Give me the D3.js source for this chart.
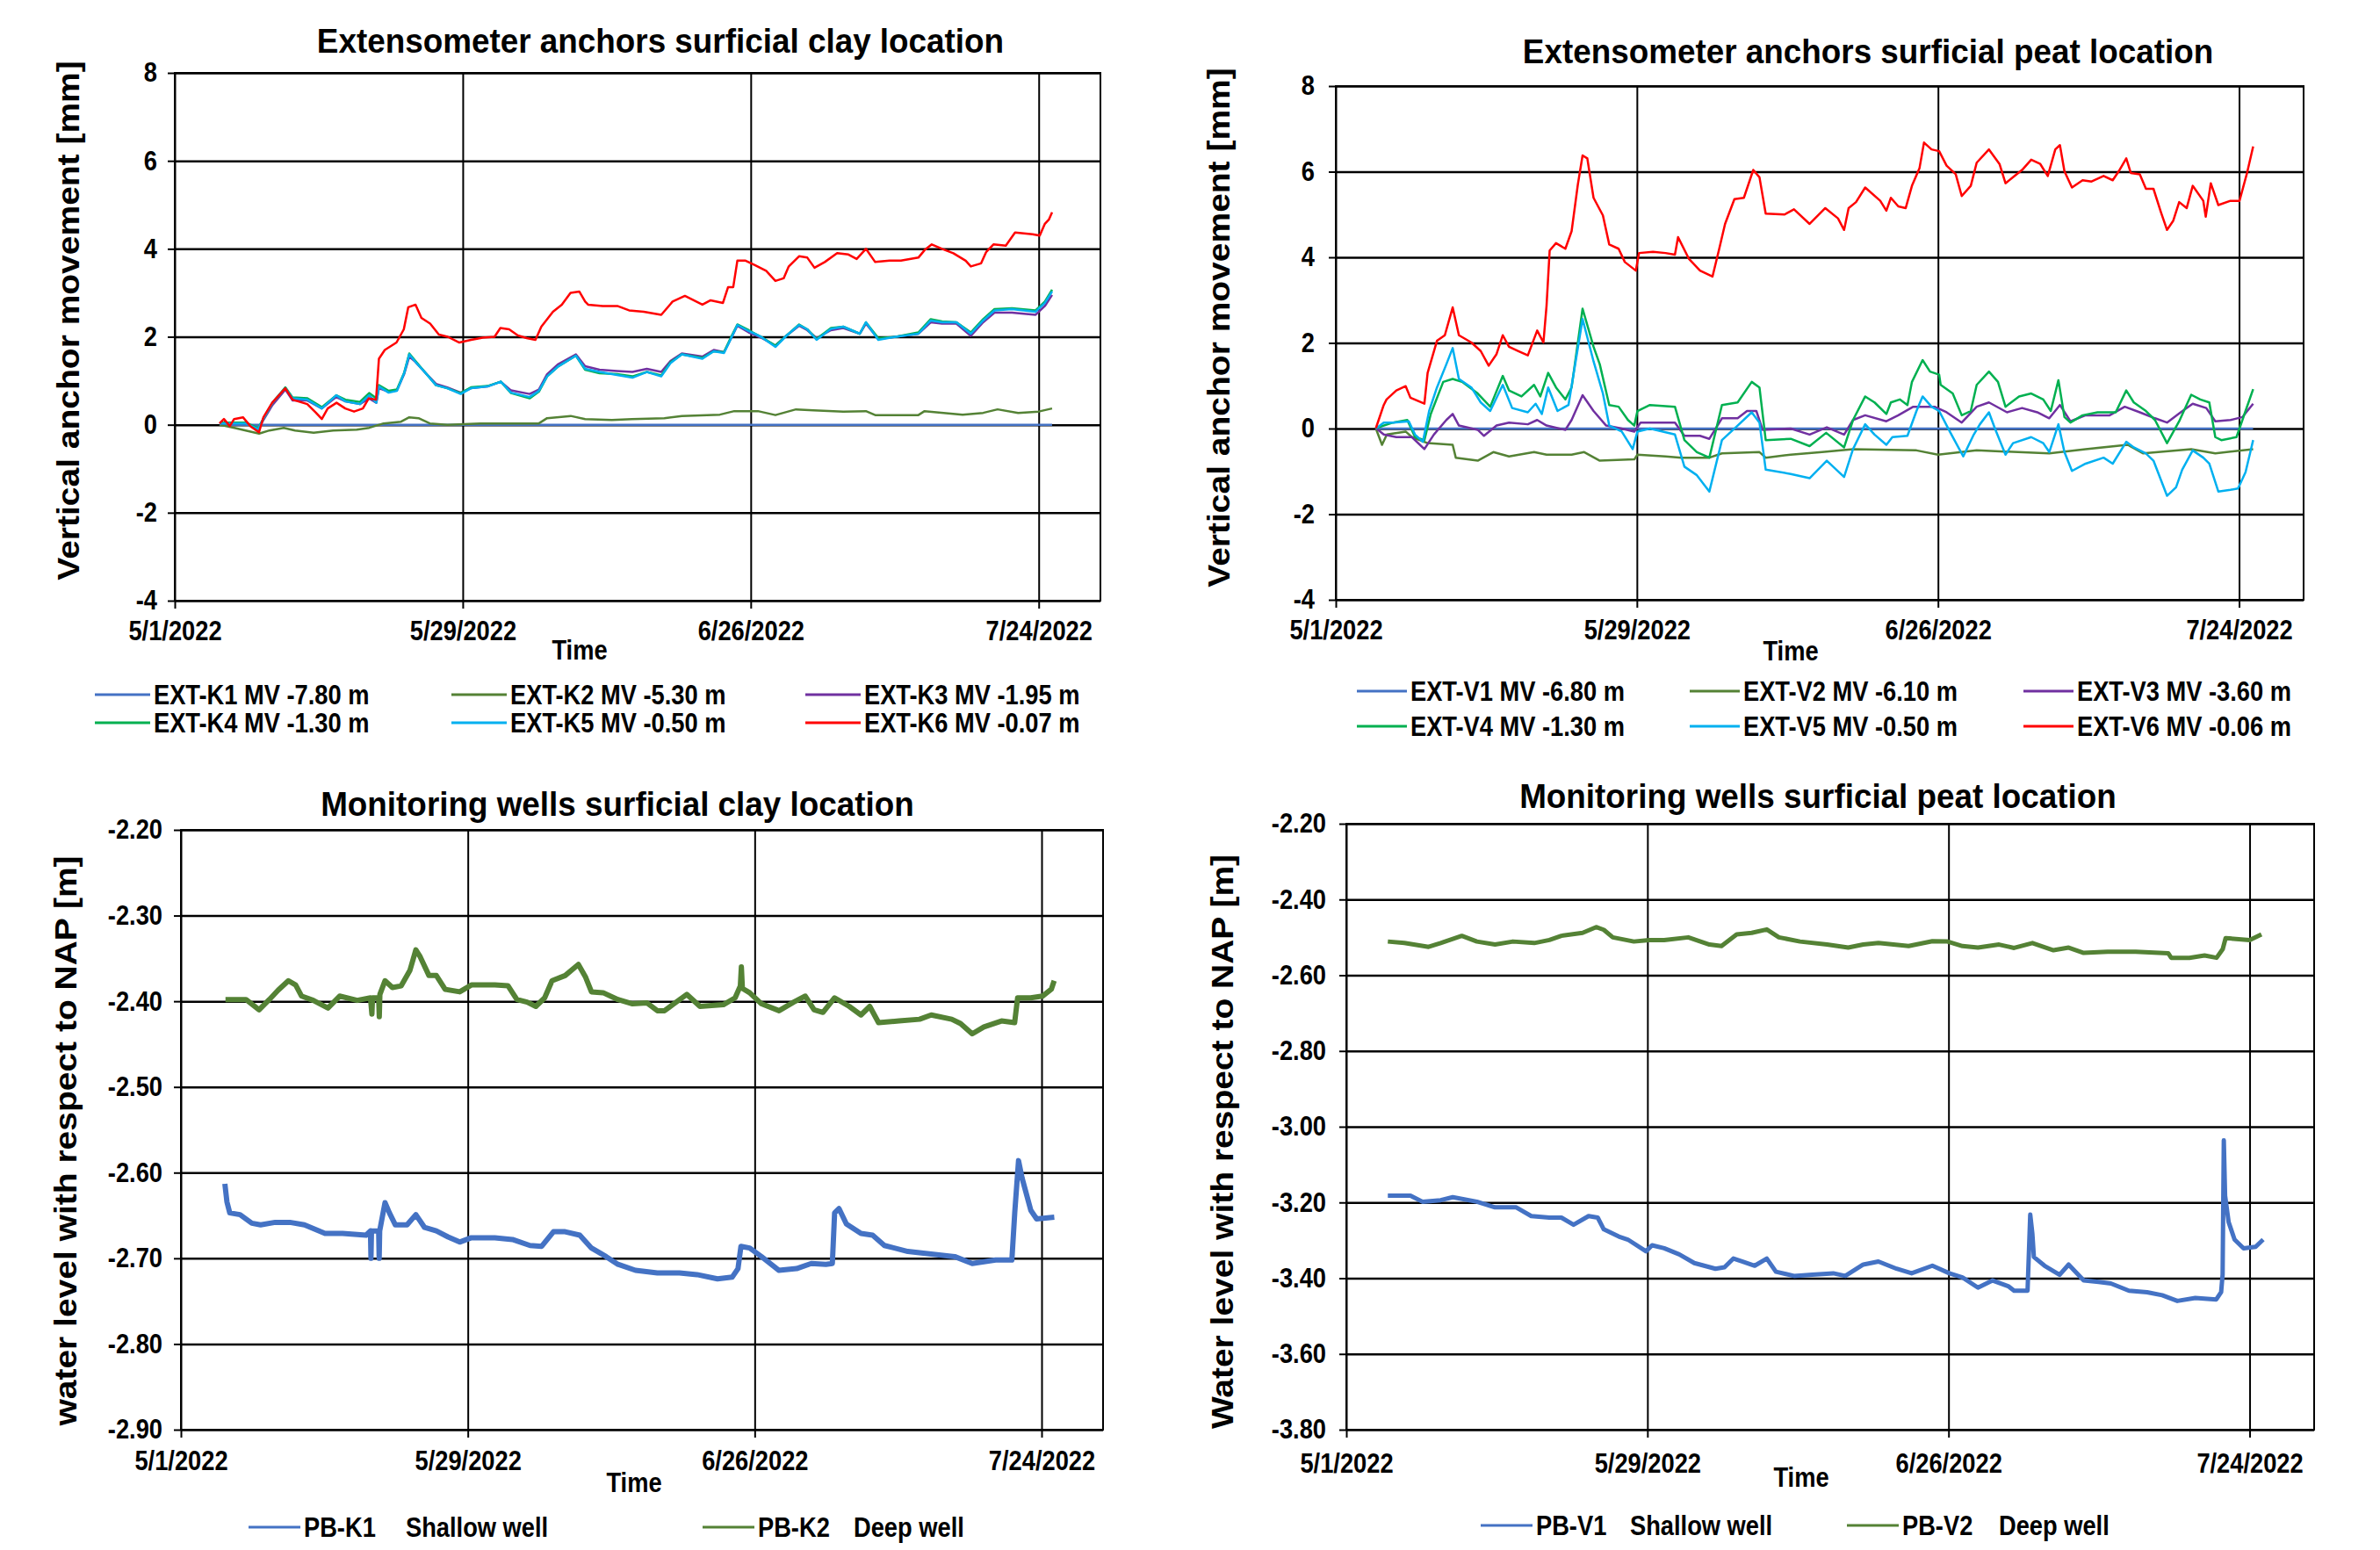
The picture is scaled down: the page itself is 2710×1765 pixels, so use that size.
<!DOCTYPE html>
<html>
<head>
<meta charset="utf-8">
<script src="https://cdn.jsdelivr.net/npm/d3@7"></script>
<style>
  body { margin: 0; background: #fff; }
  svg text { font-family: "Liberation Sans", Arial, Helvetica, sans-serif; font-weight: bold; fill: #000; }
</style>
</head>
<body>
<svg id="chart" width="2710" height="1765"></svg>
<script>
// ---- data: [days since 5/1/2022, value] ----
const xTickLabels = ["5/1/2022", "5/29/2022", "6/26/2022", "7/24/2022"];
const yTicksExt = [-4, -2, 0, 2, 4, 6, 8];
const yTicksWellK = [-2.9, -2.8, -2.7, -2.6, -2.5, -2.4, -2.3, -2.2];
const yTicksWellV = [-3.8, -3.6, -3.4, -3.2, -3.0, -2.8, -2.6, -2.4, -2.2];

const labelsK = ["EXT-K1 MV -7.80 m", "EXT-K2 MV -5.30 m", "EXT-K3 MV -1.95 m",
                 "EXT-K4 MV -1.30 m", "EXT-K5 MV -0.50 m", "EXT-K6 MV -0.07 m"];
const labelsV = ["EXT-V1 MV -6.80 m", "EXT-V2 MV -6.10 m", "EXT-V3 MV -3.60 m",
                 "EXT-V4 MV -1.30 m", "EXT-V5 MV -0.50 m", "EXT-V6 MV -0.06 m"];
const labelsWellK = [["PB-K1", "Shallow well"], ["PB-K2", "Deep well"]];
const labelsWellV = [["PB-V1", "Shallow well"], ["PB-V2", "Deep well"]];

const extK1 = [[4.35,0],[85.3,0]];
const extK2 = [[4.35,0],[5.8,-0.07],[6.9,-0.13],[8.2,-0.2],[9.2,-0.13],[10.6,-0.07],[11.7,-0.13],[13.5,-0.18],[15.4,-0.13],[17.7,-0.11],[18.9,-0.07],[20.3,0.03],[22.0,0.07],[22.8,0.17],[23.7,0.15],[24.8,0.03],[26.5,0],[29.7,0.03],[32.8,0.03],[35.4,0.03],[36.2,0.15],[38.5,0.2],[39.9,0.13],[42.5,0.11],[44.45,0.13],[47.6,0.15],[49.3,0.2],[53.0,0.23],[54.4,0.31],[56.7,0.31],[58.4,0.22],[60.4,0.35],[62.1,0.33],[65.0,0.3],[67.2,0.31],[68.1,0.22],[72.3,0.22],[72.9,0.31],[76.6,0.23],[78.6,0.27],[80.0,0.35],[82.0,0.27],[84.0,0.3],[85.3,0.37]];
const extK3 = [[4.35,0.03],[6.9,0.03],[8.1,-0.1],[8.6,0.1],[9.5,0.45],[10.75,0.8],[11.46,0.55],[12.9,0.55],[14.3,0.37],[15.7,0.63],[16.6,0.53],[18.0,0.47],[18.9,0.6],[19.6,0.5],[19.85,0.83],[20.8,0.75],[21.6,0.78],[22.3,1.15],[22.8,1.55],[23.4,1.43],[24.3,1.2],[25.4,0.93],[26.5,0.85],[27.8,0.73],[28.8,0.83],[30.4,0.87],[31.7,0.98],[32.7,0.78],[34.5,0.7],[35.4,0.8],[36.2,1.15],[37.3,1.38],[39.0,1.6],[39.9,1.33],[41.3,1.25],[43.0,1.22],[44.5,1.2],[45.9,1.27],[47.3,1.2],[48.2,1.45],[49.3,1.62],[51.3,1.55],[52.4,1.7],[53.4,1.65],[54.1,1.97],[54.7,2.25],[55.8,2.1],[57.0,1.98],[58.4,1.8],[59.5,2.03],[60.7,2.25],[61.5,2.15],[62.4,1.97],[63.8,2.15],[65.0,2.2],[66.6,2.07],[67.2,2.3],[68.4,1.95],[70.1,2.0],[72.3,2.07],[73.5,2.33],[74.6,2.3],[76.0,2.3],[77.4,2.02],[78.6,2.33],[79.7,2.55],[81.4,2.55],[83.7,2.5],[84.6,2.7],[85.3,2.95]];
const extK4 = [[4.35,0.05],[6.9,0.05],[8.1,-0.08],[8.6,0.13],[9.5,0.5],[10.75,0.85],[11.46,0.62],[12.9,0.6],[14.3,0.4],[15.7,0.67],[16.6,0.57],[18.0,0.52],[18.9,0.72],[19.6,0.6],[19.85,0.9],[20.8,0.77],[21.6,0.8],[22.3,1.18],[22.8,1.62],[23.4,1.45],[24.3,1.2],[25.4,0.9],[26.5,0.83],[27.8,0.72],[28.8,0.85],[30.4,0.88],[31.7,0.98],[32.7,0.72],[34.5,0.6],[35.4,0.75],[36.2,1.1],[37.3,1.33],[39.0,1.57],[39.9,1.25],[41.3,1.17],[43.0,1.15],[44.5,1.1],[45.9,1.2],[47.3,1.12],[48.2,1.42],[49.3,1.6],[51.3,1.52],[52.4,1.67],[53.4,1.65],[54.1,2.0],[54.7,2.28],[55.8,2.15],[57.0,2.0],[58.4,1.8],[59.5,2.03],[60.7,2.28],[61.5,2.17],[62.4,1.95],[63.8,2.2],[65.0,2.23],[66.6,2.07],[67.2,2.33],[68.4,1.97],[70.1,2.0],[72.3,2.1],[73.5,2.4],[74.6,2.35],[76.0,2.33],[77.4,2.1],[78.6,2.4],[79.7,2.63],[81.4,2.65],[83.7,2.6],[84.6,2.8],[85.3,3.07]];
const extK5 = [[4.35,0.03],[5.5,0.03],[6.9,0.03],[8.1,-0.1],[8.6,0.13],[9.5,0.5],[10.75,0.83],[11.46,0.6],[12.9,0.57],[14.3,0.37],[15.7,0.67],[16.6,0.53],[18.0,0.47],[18.9,0.67],[19.6,0.5],[19.85,0.87],[20.8,0.73],[21.6,0.77],[22.3,1.17],[22.8,1.6],[23.4,1.43],[24.3,1.2],[25.4,0.9],[26.5,0.83],[27.8,0.7],[28.8,0.83],[30.4,0.87],[31.7,0.98],[32.7,0.73],[34.5,0.63],[35.4,0.77],[36.2,1.1],[37.3,1.33],[39.0,1.57],[39.9,1.27],[41.3,1.2],[43.0,1.13],[44.5,1.07],[45.9,1.2],[47.3,1.1],[48.2,1.4],[49.3,1.6],[51.3,1.5],[52.4,1.67],[53.4,1.63],[54.1,1.97],[54.7,2.27],[55.8,2.13],[57.0,2.0],[58.4,1.77],[59.5,2.03],[60.7,2.27],[61.5,2.17],[62.4,1.93],[63.8,2.18],[65.0,2.23],[66.6,2.07],[67.2,2.33],[68.4,1.93],[70.1,2.0],[72.3,2.07],[73.5,2.37],[74.6,2.33],[76.0,2.33],[77.4,2.07],[78.6,2.37],[79.7,2.6],[81.4,2.63],[83.7,2.57],[84.6,2.77],[85.3,3.03]];
const extK6 = [[4.35,0.03],[4.78,0.13],[5.35,-0.03],[5.77,0.13],[6.63,0.17],[7.34,-0.03],[8.19,-0.17],[8.62,0.17],[9.47,0.5],[10.75,0.83],[11.46,0.57],[12.88,0.47],[13.74,0.27],[14.3,0.13],[14.87,0.37],[15.73,0.5],[16.58,0.37],[17.43,0.3],[18.29,0.37],[18.86,0.6],[19.57,0.57],[19.85,1.5],[20.42,1.7],[21.56,1.87],[22.27,2.17],[22.7,2.67],[23.41,2.73],[23.98,2.43],[24.83,2.3],[25.68,2.05],[26.54,2.0],[27.67,1.87],[28.81,1.93],[29.95,1.98],[31.09,2.0],[31.66,2.2],[32.51,2.17],[33.36,2.03],[34.22,1.97],[35.07,1.93],[35.64,2.23],[36.77,2.57],[37.63,2.73],[38.48,3.0],[39.33,3.03],[39.9,2.8],[40.19,2.73],[41.61,2.7],[43.03,2.7],[44.17,2.6],[45.6,2.57],[47.3,2.5],[48.4,2.8],[49.6,2.93],[51.3,2.73],[52.1,2.83],[53.3,2.77],[53.8,3.13],[54.3,3.13],[54.7,3.73],[55.5,3.73],[56.4,3.63],[57.5,3.5],[58.4,3.27],[59.2,3.33],[59.7,3.6],[60.7,3.83],[61.5,3.8],[62.2,3.57],[63.2,3.7],[64.4,3.9],[65.5,3.87],[66.3,3.77],[67.2,4.0],[68.1,3.7],[69.5,3.73],[70.6,3.73],[72.3,3.8],[72.9,3.97],[73.6,4.1],[74.6,4.0],[75.7,3.9],[76.9,3.73],[77.4,3.6],[78.4,3.67],[78.9,3.93],[79.6,4.1],[80.8,4.07],[81.7,4.37],[83.4,4.33],[84.1,4.3],[84.6,4.57],[85.0,4.67],[85.3,4.83]];

const extV1 = [[3.73,0],[85.3,0]];
const extV2 = [[3.73,0],[4.3,-0.38],[4.75,-0.14],[6.5,-0.07],[7.08,-0.2],[8.54,-0.34],[10.87,-0.38],[11.16,-0.68],[13.2,-0.75],[14.65,-0.55],[16.11,-0.65],[18.44,-0.55],[19.6,-0.61],[21.93,-0.61],[23.1,-0.55],[24.55,-0.75],[27.76,-0.72],[28.05,-0.61],[30.67,-0.65],[32.13,-0.68],[34.74,-0.68],[35.91,-0.58],[39.4,-0.55],[39.98,-0.68],[42.31,-0.61],[45.22,-0.55],[48.1,-0.48],[54.0,-0.51],[56.0,-0.61],[59.6,-0.51],[66.35,-0.58],[69.73,-0.48],[73.65,-0.38],[75.06,-0.58],[79.55,-0.48],[81.79,-0.58],[85.31,-0.48]];
const extV3 = [[3.73,0.01],[4.46,-0.14],[5.63,-0.2],[7.08,-0.2],[8.24,-0.48],[9.12,-0.14],[10.28,0.2],[10.87,0.34],[11.45,0.07],[13.2,-0.03],[13.78,-0.17],[14.95,0.07],[16.11,0.14],[17.86,0.1],[18.73,0.2],[19.6,0.07],[21.35,-0.03],[21.93,0.2],[22.95,0.78],[23.97,0.41],[25.14,0.07],[26.59,0],[27.76,-0.07],[28.34,0.14],[29.8,0.14],[31.54,0.14],[32.42,-0.17],[33.87,-0.17],[34.74,-0.24],[35.91,0.24],[37.37,0.24],[38.24,0.41],[39.11,0.41],[39.69,-0.03],[42.31,0],[44.06,-0.14],[45.66,0.03],[47.27,-0.14],[48.1,0.2],[49.23,0.31],[51.2,0.17],[52.31,0.31],[53.7,0.51],[55.68,0.51],[56.8,0.38],[58.21,0.14],[59.6,0.51],[60.74,0.61],[62.42,0.38],[63.82,0.48],[65.23,0.38],[66.35,0.24],[67.34,0.55],[68.32,0.17],[69.73,0.31],[71.97,0.31],[73.37,0.51],[74.77,0.38],[76.18,0.24],[77.3,0.14],[78.57,0.38],[79.69,0.58],[80.95,0.48],[81.79,0.17],[83.2,0.2],[84.32,0.27],[85.31,0.58]];
const extV4 = [[3.73,0.01],[5.33,0.14],[6.65,0.2],[7.37,-0.2],[8.24,-0.27],[8.83,0.34],[9.99,1.09],[10.87,1.16],[11.74,1.09],[13.2,0.82],[14.36,0.51],[15.53,1.23],[16.11,0.89],[17.27,0.75],[18.44,1.02],[19.02,0.75],[19.75,1.3],[20.48,0.96],[21.35,0.68],[21.93,0.96],[22.95,2.8],[23.97,1.91],[24.55,1.5],[25.43,0.55],[26.3,0.51],[27.17,0.2],[27.76,0.07],[28.05,0.41],[29.21,0.55],[31.54,0.51],[32.42,-0.27],[33.58,-0.55],[34.74,-0.68],[35.91,0.55],[37.37,0.61],[38.68,1.09],[39.4,0.96],[39.98,-0.27],[42.31,-0.24],[44.06,-0.41],[45.6,-0.1],[47.27,-0.44],[48.1,0.2],[49.23,0.75],[50.1,0.61],[51.2,0.34],[51.62,0.61],[52.45,0.68],[53.16,0.55],[53.58,1.09],[54.57,1.6],[55.26,1.33],[56.11,1.26],[56.25,1.02],[57.37,0.82],[58.21,0.31],[59.05,0.41],[59.6,1.02],[60.74,1.33],[61.58,1.09],[62.28,0.51],[63.54,0.75],[64.67,0.82],[65.79,0.68],[66.49,0.41],[67.2,1.13],[67.76,0.27],[68.32,0.14],[69.45,0.31],[70.84,0.38],[72.53,0.38],[73.51,0.89],[74.21,0.61],[75.34,0.41],[76.18,0.2],[77.3,-0.34],[78.43,0.17],[79.55,0.79],[80.39,0.68],[81.23,0.61],[81.79,-0.2],[82.35,-0.27],[83.76,-0.2],[84.6,0.41],[85.31,0.92]];
const extV5 = [[3.73,0],[4.46,0.14],[5.33,0.14],[6.79,0.17],[7.37,-0.14],[8.1,-0.31],[8.68,0.41],[9.41,0.96],[10.28,1.5],[10.87,1.88],[11.45,1.16],[12.61,0.96],[13.48,0.61],[14.36,0.41],[15.53,1.02],[16.4,0.48],[17.86,0.38],[18.58,0.58],[19.16,0.34],[19.75,0.96],[20.62,0.41],[21.64,0.55],[22.95,2.56],[23.97,1.57],[24.84,0.82],[25.43,0.07],[26.59,-0.07],[27.61,-0.48],[28.05,-0.07],[29.21,0],[31.54,-0.14],[32.42,-0.89],[33.58,-1.09],[34.74,-1.47],[35.91,-0.27],[37.37,0.07],[38.68,0.38],[39.4,0.14],[39.98,-0.96],[42.31,-1.06],[44.06,-1.16],[45.66,-0.75],[47.27,-1.13],[48.1,-0.48],[49.23,0.1],[50.1,-0.14],[51.2,-0.38],[51.76,-0.2],[53.16,-0.17],[54.0,0.41],[54.57,0.75],[55.4,0.51],[56.11,0.41],[57.1,-0.07],[58.35,-0.65],[59.33,-0.14],[59.9,0.1],[60.74,0.38],[61.3,0],[62.28,-0.61],[62.98,-0.34],[64.67,-0.2],[65.79,-0.34],[66.35,-0.55],[67.2,0.1],[67.76,-0.55],[68.46,-0.99],[69.73,-0.82],[71.4,-0.68],[72.25,-0.82],[73.51,-0.31],[74.21,-0.44],[75.34,-0.58],[76.04,-0.75],[77.3,-1.57],[78.14,-1.37],[78.71,-0.96],[79.69,-0.51],[80.67,-0.68],[81.23,-0.82],[82.07,-1.47],[83.2,-1.43],[83.9,-1.4],[84.6,-1.02],[85.31,-0.27]];
const extV6 = [[3.73,0.01],[4.46,0.55],[4.72,0.68],[5.63,0.89],[6.5,0.99],[6.94,0.72],[8.24,0.58],[8.54,1.3],[9.41,2.05],[10.14,2.18],[10.87,2.83],[11.45,2.18],[12.61,2.01],[13.48,1.81],[14.22,1.47],[14.95,1.74],[15.53,2.18],[16.11,1.91],[16.98,1.81],[17.86,1.71],[18.73,2.29],[19.31,2.01],[19.6,2.87],[19.89,4.16],[20.48,4.33],[21.35,4.2],[21.93,4.61],[22.51,5.7],[22.95,6.38],[23.39,6.31],[23.97,5.39],[24.84,4.98],[25.43,4.3],[26.3,4.2],[26.88,3.89],[27.9,3.69],[28.2,4.1],[29.5,4.13],[30.66,4.1],[31.54,4.06],[31.83,4.47],[32.85,3.96],[33.87,3.69],[35.03,3.55],[35.62,4.16],[36.2,4.78],[37.07,5.36],[37.95,5.39],[38.82,6.04],[39.4,5.87],[39.98,5.02],[41.74,5.0],[42.61,5.12],[44.06,4.78],[45.52,5.15],[46.7,4.91],[47.27,4.64],[47.69,5.15],[48.38,5.29],[49.23,5.63],[50.63,5.32],[51.2,5.09],[51.62,5.39],[52.31,5.19],[53.0,5.15],[53.58,5.67],[54.28,6.08],[54.7,6.68],[55.4,6.52],[56.11,6.48],[56.8,6.14],[57.65,5.94],[58.21,5.43],[59.05,5.67],[59.6,6.21],[60.74,6.52],[61.72,6.18],[62.28,5.73],[62.98,5.87],[63.82,6.04],[64.67,6.28],[65.51,6.18],[66.21,5.9],[66.91,6.52],[67.34,6.62],[67.76,6.01],[68.46,5.63],[69.45,5.8],[70.28,5.77],[71.4,5.9],[72.25,5.8],[72.81,6.01],[73.51,6.31],[73.93,5.97],[74.77,5.94],[75.34,5.6],[76.04,5.6],[76.74,5.05],[77.3,4.64],[77.87,4.85],[78.43,5.29],[79.13,5.15],[79.69,5.67],[80.67,5.32],[80.9,4.95],[81.37,5.73],[82.07,5.22],[83.2,5.32],[84.04,5.32],[84.74,5.97],[85.31,6.59]];

const wellK1 = [[4.29,-2.613],[4.49,-2.634],[4.77,-2.647],[5.77,-2.649],[6.92,-2.659],[7.78,-2.661],[9.2,-2.658],[10.63,-2.658],[12.06,-2.661],[14.06,-2.671],[15.78,-2.671],[18.07,-2.673],[18.5,-2.668],[18.55,-2.70],[18.6,-2.668],[19.3,-2.668],[19.35,-2.70],[19.4,-2.668],[19.92,-2.635],[20.35,-2.647],[20.93,-2.661],[22.07,-2.661],[22.93,-2.649],[23.78,-2.664],[24.93,-2.668],[26.07,-2.675],[27.21,-2.681],[28.35,-2.676],[30.64,-2.676],[32.36,-2.678],[34.07,-2.685],[35.21,-2.686],[36.36,-2.669],[37.5,-2.669],[38.93,-2.673],[40.07,-2.688],[41.5,-2.698],[42.65,-2.707],[44.36,-2.714],[46.5,-2.717],[48.66,-2.717],[50.37,-2.719],[52.37,-2.724],[53.8,-2.722],[54.37,-2.712],[54.66,-2.686],[55.51,-2.688],[56.66,-2.698],[58.37,-2.714],[60.09,-2.712],[61.52,-2.706],[62.95,-2.707],[63.58,-2.706],[63.8,-2.647],[64.23,-2.642],[64.95,-2.66],[66.37,-2.671],[67.51,-2.673],[68.66,-2.685],[70.95,-2.692],[73.23,-2.695],[75.52,-2.698],[77.23,-2.706],[79.52,-2.702],[81.1,-2.702],[81.38,-2.647],[81.75,-2.586],[82.09,-2.606],[82.95,-2.644],[83.52,-2.654],[85.24,-2.652]];
const wellK2 = [[4.35,-2.398],[6.35,-2.398],[7.63,-2.41],[8.63,-2.398],[9.49,-2.387],[10.49,-2.376],[11.2,-2.381],[11.78,-2.394],[12.92,-2.399],[14.35,-2.408],[15.49,-2.394],[17.21,-2.399],[18.5,-2.396],[18.64,-2.415],[18.7,-2.396],[19.3,-2.396],[19.36,-2.418],[19.42,-2.392],[19.92,-2.376],[20.64,-2.384],[21.5,-2.382],[22.35,-2.364],[22.93,-2.34],[23.35,-2.348],[24.21,-2.37],[24.93,-2.37],[25.78,-2.386],[27.21,-2.389],[28.35,-2.381],[30.64,-2.381],[31.93,-2.382],[32.79,-2.398],[33.79,-2.401],[34.64,-2.406],[35.5,-2.396],[36.22,-2.376],[37.5,-2.37],[38.79,-2.357],[39.5,-2.372],[40.07,-2.389],[41.21,-2.39],[42.65,-2.398],[44.08,-2.403],[45.5,-2.402],[46.5,-2.411],[47.2,-2.411],[48.1,-2.403],[49.37,-2.392],[50.66,-2.406],[52.94,-2.404],[54.09,-2.396],[54.6,-2.382],[54.7,-2.36],[54.8,-2.385],[55.5,-2.39],[56.66,-2.403],[58.38,-2.411],[59.8,-2.401],[60.94,-2.394],[61.8,-2.41],[62.66,-2.413],[63.8,-2.396],[65.23,-2.406],[66.37,-2.416],[67.23,-2.406],[68.09,-2.425],[70.09,-2.423],[72.09,-2.421],[73.23,-2.416],[75.23,-2.421],[76.09,-2.426],[77.23,-2.438],[78.37,-2.43],[80.09,-2.423],[81.37,-2.425],[81.66,-2.396],[82.94,-2.396],[84.09,-2.394],[84.95,-2.386],[85.23,-2.376]];

const wellV1 = [[3.86,-3.182],[5.96,-3.182],[7.08,-3.198],[8.77,-3.194],[9.9,-3.186],[12.14,-3.198],[13.83,-3.213],[15.8,-3.213],[17.2,-3.236],[18.88,-3.24],[20.0,-3.24],[21.13,-3.259],[22.53,-3.236],[23.38,-3.24],[23.94,-3.271],[25.34,-3.29],[26.18,-3.298],[27.87,-3.329],[28.43,-3.313],[29.56,-3.321],[30.96,-3.337],[32.36,-3.36],[34.33,-3.375],[35.17,-3.371],[36.0,-3.348],[36.86,-3.356],[37.98,-3.367],[39.1,-3.348],[39.95,-3.383],[41.63,-3.394],[43.32,-3.391],[45.28,-3.387],[46.4,-3.394],[48.07,-3.364],[49.48,-3.356],[51.17,-3.375],[52.57,-3.387],[54.5,-3.367],[56.07,-3.387],[57.3,-3.398],[58.74,-3.425],[60.1,-3.406],[61.55,-3.421],[62.1,-3.433],[63.35,-3.433],[63.6,-3.232],[63.8,-3.283],[63.94,-3.344],[64.93,-3.367],[66.33,-3.391],[67.17,-3.364],[68.57,-3.406],[69.97,-3.41],[71.1,-3.414],[72.78,-3.433],[74.47,-3.437],[75.87,-3.445],[77.28,-3.46],[78.95,-3.452],[80.9,-3.456],[81.35,-3.437],[81.49,-3.39],[81.6,-3.036],[81.72,-3.182],[82.05,-3.252],[82.6,-3.298],[83.44,-3.321],[84.56,-3.317],[85.26,-3.298]];
const wellV2 = [[3.86,-2.511],[5.4,-2.515],[7.65,-2.525],[8.77,-2.515],[10.74,-2.496],[12.14,-2.511],[13.83,-2.519],[15.5,-2.511],[17.48,-2.515],[18.88,-2.507],[20.0,-2.496],[21.97,-2.488],[23.23,-2.473],[23.94,-2.48],[24.78,-2.5],[26.74,-2.511],[28.15,-2.507],[29.56,-2.507],[31.8,-2.5],[33.77,-2.519],[34.89,-2.523],[36.3,-2.492],[37.7,-2.488],[39.1,-2.479],[40.23,-2.5],[42.19,-2.511],[44.7,-2.519],[46.67,-2.527],[48.07,-2.519],[49.48,-2.515],[52.29,-2.523],[54.5,-2.51],[55.9,-2.511],[57.3,-2.523],[58.74,-2.527],[60.7,-2.519],[62.1,-2.528],[63.8,-2.515],[65.76,-2.534],[67.17,-2.527],[68.57,-2.541],[70.8,-2.538],[73.4,-2.538],[76.43,-2.542],[76.71,-2.554],[78.4,-2.554],[79.81,-2.548],[80.93,-2.554],[81.5,-2.531],[81.77,-2.502],[84.0,-2.507],[85.1,-2.492]];

const extColors = ["#4472C4", "#548235", "#7030A0", "#00B050", "#00B0F0", "#FF0000"];
const wellColors = ["#4472C4", "#548235"];

// ---- helpers ----
const day0 = new Date(2022, 4, 1);
const parseDate = d3.timeParse("%m/%d/%Y");
function toDate(d) { return new Date(day0.getTime() + d * 864e5); }
function fmtDate(d) { return (d.getMonth() + 1) + "/" + d.getDate() + "/" + d.getFullYear(); }

// the source picture is horizontally compressed, so text is too
const SQ = 0.88;
function squeeze(sel, f) {
    sel.each(function () {
        const t = d3.select(this);
        const x0 = +t.attr("x") || 0;
        t.attr("transform", "translate(" + (x0 * (1 - f)) + ",0) scale(" + f + ",1)");
    });
}

const svg = d3.select("#chart");

function drawPanel(p) {
    const g = svg.append("g");
    const w = p.right - p.left, h = p.bottom - p.top;
    const x = d3.scaleTime().domain([day0, toDate(90)]).range([p.left, p.right]);
    const y = d3.scaleLinear().domain(p.yDomain).range([p.bottom, p.top]);
    const xTicks = xTickLabels.map(parseDate);

    // gridlines
    const gx = g.append("g").attr("transform", "translate(0," + p.bottom + ")")
        .call(d3.axisBottom(x).tickValues(xTicks).tickSize(-h).tickFormat(""));
    gx.select(".domain").remove();
    gx.selectAll("line").attr("stroke", "#000").attr("stroke-width", 2);

    const gy = g.append("g").attr("transform", "translate(" + p.left + ",0)")
        .call(d3.axisLeft(y).tickValues(p.yTicks).tickSize(-w).tickFormat(""));
    gy.select(".domain").remove();
    gy.selectAll("line").attr("stroke", "#000").attr("stroke-width", 2.5);

    g.append("rect")
        .attr("x", p.left).attr("y", p.top).attr("width", w).attr("height", h)
        .attr("fill", "none").attr("stroke", "#000").attr("stroke-width", 2);

    // series
    const line = d3.line()
        .x(function (d) { return x(toDate(d[0])); })
        .y(function (d) { return y(d[1]); });
    p.series.forEach(function (s, i) {
        g.append("path")
            .datum(s)
            .attr("d", line)
            .attr("fill", "none")
            .attr("stroke", p.colors[i])
            .attr("stroke-width", p.lineWidth)
            .attr("stroke-linejoin", "round");
    });

    // axes with labels
    const ax = g.append("g").attr("transform", "translate(0," + p.bottom + ")")
        .call(d3.axisBottom(x).tickValues(xTicks).tickSize(9).tickPadding(p.xPad).tickFormat(fmtDate));
    ax.select(".domain").remove();
    ax.selectAll("line").attr("stroke", "#000").attr("stroke-width", 2);
    ax.selectAll("text").style("font-size", "31px");
    squeeze(ax.selectAll("text"), SQ);

    const ay = g.append("g").attr("transform", "translate(" + p.left + ",0)")
        .call(d3.axisLeft(y).tickValues(p.yTicks).tickSize(8).tickPadding(p.yPad).tickFormat(p.yFormat));
    ay.select(".domain").remove();
    ay.selectAll("line").attr("stroke", "#000").attr("stroke-width", 2);
    ay.selectAll("text").style("font-size", "31px");
    squeeze(ay.selectAll("text"), SQ);

    // title
    const tt = g.append("text")
        .attr("x", p.titleX).attr("y", p.titleY).attr("dy", "0.35em")
        .attr("text-anchor", "middle").style("font-size", "38px")
        .text(p.title);
    squeeze(tt, 0.97);

    // "Time"
    const tm = g.append("text")
        .attr("x", p.timeX).attr("y", p.timeY).attr("dy", "0.35em")
        .attr("text-anchor", "middle").style("font-size", "31px")
        .text("Time");
    squeeze(tm, SQ);

    // y label
    g.append("g")
        .attr("transform", "translate(" + p.ylabX + "," + p.ylabY + ") scale(" + SQ + ",1) rotate(-90)")
        .append("text")
        .attr("text-anchor", "middle").attr("dy", "0.35em")
        .style("font-size", "39px")
        .text(p.ylabel);

    // legend
    p.legend.forEach(function (item, i) {
        const lx = item.x, ly = item.y;
        g.append("line")
            .attr("x1", lx).attr("x2", lx + p.legLine)
            .attr("y1", ly).attr("y2", ly)
            .attr("stroke", p.colors[i]).attr("stroke-width", 3);
        const t1 = g.append("text")
            .attr("x", lx + p.legLine + 4).attr("y", ly).attr("dy", "0.35em")
            .style("font-size", "31px")
            .text(item.label[0]);
        squeeze(t1, SQ);
        if (item.label[1]) {
            const t2 = g.append("text")
                .attr("x", item.x2).attr("y", ly).attr("dy", "0.35em")
                .style("font-size", "31px")
                .text(item.label[1]);
            squeeze(t2, SQ);
        }
    });
}

// plain hyphen minus, as in the source
const fmtInt = function (d) { return String(d); };
const fmt2 = function (d) { return d.toFixed(2); };

function extLegend(labels, cols, rows) {
    return labels.map(function (l, i) {
        return { label: [l], x: cols[i % 3], y: rows[Math.floor(i / 3)] };
    });
}
function wellLegend(labels, cols, cols2, row) {
    return labels.map(function (l, i) {
        return { label: l, x: cols[i], x2: cols2[i], y: row };
    });
}

drawPanel({
    left: 199, right: 1253, top: 83, bottom: 684,
    yDomain: [-4, 8], yTicks: yTicksExt, yFormat: fmtInt, xPad: 14, yPad: 12,
    series: [extK1, extK2, extK3, extK4, extK5, extK6], colors: extColors, lineWidth: 2.5,
    title: "Extensometer anchors surficial clay location", titleX: 752, titleY: 47,
    timeX: 660, timeY: 740,
    ylabel: "Vertical anchor movement [mm]", ylabX: 78, ylabY: 365,
    legLine: 63,
    legend: extLegend(labelsK, [108, 514, 917], [791, 823])
});

drawPanel({
    left: 1521, right: 2623, top: 98, bottom: 683,
    yDomain: [-4, 8], yTicks: yTicksExt, yFormat: fmtInt, xPad: 14, yPad: 16,
    series: [extV1, extV2, extV3, extV4, extV5, extV6], colors: extColors, lineWidth: 2.5,
    title: "Extensometer anchors surficial peat location", titleX: 2127, titleY: 59,
    timeX: 2039, timeY: 741,
    ylabel: "Vertical anchor movement [mm]", ylabX: 1388, ylabY: 373,
    legLine: 57,
    legend: extLegend(labelsV, [1545, 1924, 2304], [787, 827])
});

drawPanel({
    left: 206, right: 1256, top: 945, bottom: 1628,
    yDomain: [-2.9, -2.2], yTicks: yTicksWellK, yFormat: fmt2, xPad: 15, yPad: 13,
    series: [wellK1, wellK2], colors: wellColors, lineWidth: 6,
    title: "Monitoring wells surficial clay location", titleX: 703, titleY: 916,
    timeX: 722, timeY: 1688,
    ylabel: "water level with respect to NAP [m]", ylabX: 75, ylabY: 1299,
    legLine: 59,
    legend: wellLegend(labelsWellK, [283, 800], [462, 972], 1739)
});

drawPanel({
    left: 1533, right: 2635, top: 938, bottom: 1628,
    yDomain: [-3.8, -2.2], yTicks: yTicksWellV, yFormat: fmt2, xPad: 18, yPad: 15,
    series: [wellV1, wellV2], colors: wellColors, lineWidth: 5,
    title: "Monitoring wells surficial peat location", titleX: 2070, titleY: 907,
    timeX: 2051, timeY: 1682,
    ylabel: "Water level with respect to NAP [m]", ylabX: 1392, ylabY: 1300,
    legLine: 59,
    legend: wellLegend(labelsWellV, [1686, 2103], [1856, 2276], 1737)
});
</script>
</body>
</html>
